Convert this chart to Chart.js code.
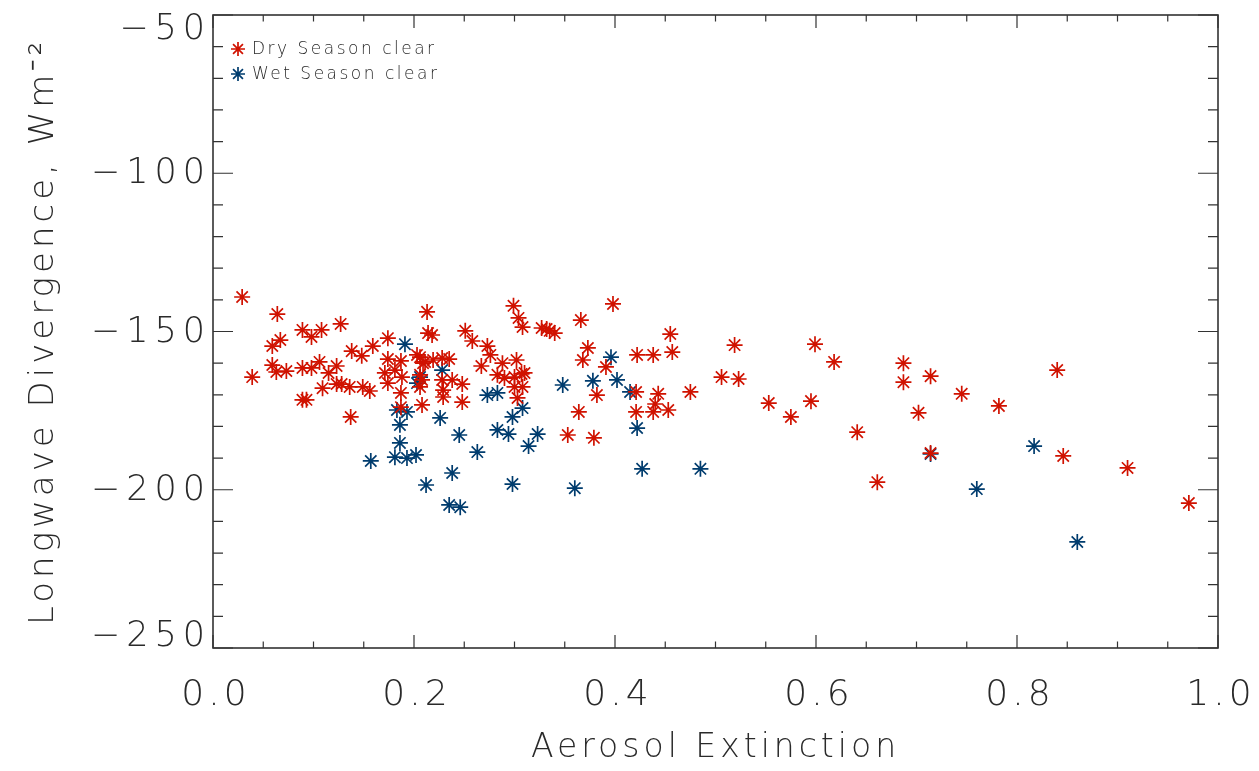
<!DOCTYPE html>
<html>
<head>
<meta charset="utf-8">
<script src="https://cdn.jsdelivr.net/npm/chart.js@4.4.1/dist/chart.umd.min.js"></script>
<style>
  html, body { margin: 0; padding: 0; background: #fff; }
  #wrap { width: 1259px; height: 771px; }
</style>
</head>
<body>
<div id="wrap"><canvas id="chart1" width="1259" height="771"></canvas></div>
<script>
// Dry season clear-sky points (aerosol extinction, longwave divergence)
const dryX = [0.029, 0.064, 0.059, 0.067, 0.059, 0.063, 0.073, 0.039, 0.089, 0.098,
  0.108, 0.089, 0.098, 0.106, 0.089, 0.093, 0.109, 0.127, 0.115, 0.123,
  0.123, 0.128, 0.136, 0.149, 0.156, 0.137, 0.138, 0.148, 0.159, 0.174,
  0.174, 0.187, 0.171, 0.181, 0.188, 0.187, 0.187, 0.174, 0.206, 0.209,
  0.206, 0.208, 0.213, 0.214, 0.203, 0.211, 0.219, 0.228, 0.235, 0.206,
  0.208, 0.228, 0.238, 0.248, 0.229, 0.229, 0.248, 0.218, 0.251, 0.258,
  0.273, 0.276, 0.267, 0.288, 0.302, 0.299, 0.304, 0.308, 0.327, 0.332,
  0.335, 0.340, 0.366, 0.373, 0.368, 0.283, 0.290, 0.300, 0.307, 0.310,
  0.300, 0.308, 0.303, 0.382, 0.364, 0.353, 0.379, 0.398, 0.455, 0.457,
  0.422, 0.438, 0.391, 0.421, 0.443, 0.440, 0.421, 0.438, 0.453, 0.475,
  0.519, 0.506, 0.523, 0.553, 0.575, 0.595, 0.599, 0.618, 0.641, 0.661,
  0.687, 0.687, 0.714, 0.702, 0.745, 0.782, 0.840, 0.714, 0.846, 0.910,
  0.971];
const dryY = [-139.1, -144.5, -154.6, -152.7, -160.6, -162.8, -162.5, -164.4, -149.5, -151.7,
  -149.5, -161.5, -161.5, -159.6, -171.6, -171.6, -167.9, -147.6, -163.1, -160.9,
  -166.6, -166.6, -167.5, -167.5, -168.8, -177.0, -156.2, -157.7, -154.6, -152.1,
  -158.7, -159.3, -163.1, -162.2, -164.4, -169.4, -173.9, -166.3, -158.1, -160.0,
  -167.5, -173.2, -143.8, -150.5, -157.4, -159.6, -159.0, -158.4, -158.7, -163.7,
  -165.3, -165.3, -165.3, -166.6, -168.5, -170.7, -172.3, -151.1, -149.8, -153.0,
  -154.6, -157.4, -160.9, -160.0, -159.0, -141.9, -145.7, -148.6, -148.9, -149.2,
  -149.8, -150.5, -146.4, -155.2, -159.0, -163.7, -164.7, -164.4, -163.4, -163.1,
  -167.5, -167.5, -171.0, -170.1, -175.4, -182.7, -183.6, -141.3, -150.8, -156.5,
  -157.4, -157.4, -161.2, -169.1, -169.7, -172.9, -175.4, -175.4, -174.8, -169.1,
  -154.3, -164.4, -165.0, -172.6, -177.0, -172.0, -154.0, -159.6, -181.8, -197.6,
  -160.0, -166.0, -164.1, -175.7, -169.7, -173.5, -162.2, -188.4, -189.3, -193.1,
  -204.2];

// Wet season clear-sky points
const wetX = [0.191, 0.183, 0.193, 0.186, 0.186, 0.181, 0.193, 0.202, 0.157, 0.212,
  0.203, 0.206, 0.228, 0.273, 0.283, 0.298, 0.308, 0.226, 0.245, 0.283,
  0.294, 0.323, 0.314, 0.263, 0.238, 0.298, 0.360, 0.235, 0.246, 0.348,
  0.378, 0.396, 0.402, 0.415, 0.422, 0.427, 0.485, 0.714, 0.760, 0.817,
  0.860];
const wetY = [-154.0, -174.8, -175.4, -179.5, -185.2, -189.7, -190.0, -189.0, -190.9, -198.5,
  -166.3, -164.4, -162.2, -170.1, -169.4, -177.0, -174.2, -177.3, -182.7, -181.1,
  -182.4, -182.4, -186.2, -188.1, -194.7, -198.2, -199.5, -204.8, -205.5, -166.9,
  -165.6, -158.1, -165.3, -169.1, -180.5, -193.4, -193.4, -188.7, -199.8, -186.2,
  -216.5];

const seriesNames = ["Dry Season clear", "Wet Season clear"];
const xTicks = [0.0, 0.2, 0.4, 0.6, 0.8, 1.0];
const yTicks = [-250, -200, -150, -100, -50];

const toPoints = (xs, ys) => xs.map((v, i) => ({ x: v, y: ys[i] }));

const fontFamily = "'DejaVu Sans', sans-serif";
const fontWeight = 200;
const inkColor = "#2a2a2a";

// wide Hershey-like lettering: canvas letter spacing (reset whenever canvas is resized)
const wideText = {
  id: "wideText",
  beforeUpdate(chart) { chart.ctx.letterSpacing = "4px"; },
  beforeDraw(chart) { chart.ctx.letterSpacing = "4px"; },
};

// box + inward ticks on all four sides, like the IDL plot
const frameTicks = {
  id: "frameTicks",
  afterDatasetsDraw(chart) {
    const { ctx, chartArea: a, scales } = chart;
    const x = scales.x, y = scales.y;
    ctx.save();
    ctx.strokeStyle = "#333";
    ctx.lineWidth = 1.6;
    ctx.strokeRect(a.left, a.top, a.right - a.left, a.bottom - a.top);
    ctx.lineWidth = 1.2;
    ctx.beginPath();
    for (let i = 0; i <= 20; i++) {
      const px = x.getPixelForValue(i * 0.05);
      const len = i % 4 === 0 ? 13 : 6.5;
      ctx.moveTo(px, a.bottom); ctx.lineTo(px, a.bottom - len);
      ctx.moveTo(px, a.top); ctx.lineTo(px, a.top + len);
    }
    for (let v = -250; v <= -50; v += 10) {
      const py = y.getPixelForValue(v);
      const len = v % 50 === 0 ? 20 : 10;
      ctx.moveTo(a.left, py); ctx.lineTo(a.left + len, py);
      ctx.moveTo(a.right, py); ctx.lineTo(a.right - len, py);
    }
    ctx.stroke();

    // y tick labels, kept inside the box height at both ends
    ctx.font = fontWeight + " 35px " + fontFamily;
    ctx.letterSpacing = "6px";
    ctx.fillStyle = inkColor;
    ctx.textAlign = "right";
    ctx.textBaseline = "middle";
    yTicks.forEach((v) => {
      const py = Math.min(Math.max(y.getPixelForValue(v), a.top + 14), a.bottom - 12);
      ctx.fillText((v < 0 ? "\u2212" : "") + Math.abs(v), a.left - 8 + 6, py + 1);
    });
    ctx.restore();
  }
};

// legend in the top-left corner of the plot box
const insideLegend = {
  id: "insideLegend",
  afterDatasetsDraw(chart) {
    const { ctx, chartArea: a } = chart;
    ctx.save();
    ctx.font = fontWeight + " 17px " + fontFamily;
    ctx.letterSpacing = "2.5px";
    ctx.textBaseline = "middle";
    ctx.textAlign = "left";
    chart.data.datasets.forEach((ds, i) => {
      const cy = a.top + 34 + i * 25;
      const cx = a.left + 25;
      ctx.strokeStyle = ds.borderColor;
      ctx.fillStyle = ds.borderColor;
      ctx.lineWidth = ds.borderWidth;
      Chart.helpers.drawPoint(ctx, { pointStyle: ds.pointStyle, radius: 7, borderWidth: ds.borderWidth }, cx, cy);
      ctx.fillStyle = inkColor;
      ctx.fillText(ds.label, cx + 14, cy + 1);
    });
    ctx.restore();
  }
};

const ctx1 = document.getElementById("chart1").getContext("2d");

const scatterChart = new Chart(ctx1, {
  type: "scatter",
  data: {
    datasets: [
      {
        label: seriesNames[0],
        data: toPoints(dryX, dryY),
        pointStyle: "star",
        pointRadius: 8,
        pointHoverRadius: 8,
        borderWidth: 1.7,
        borderColor: "#d01200",
        backgroundColor: "#d01200",
      },
      {
        label: seriesNames[1],
        data: toPoints(wetX, wetY),
        pointStyle: "star",
        pointRadius: 8,
        pointHoverRadius: 8,
        borderWidth: 1.7,
        borderColor: "#003c6e",
        backgroundColor: "#003c6e",
      },
    ],
  },
  plugins: [wideText, frameTicks, insideLegend],
  options: {
    responsive: false,
    animation: false,
    layout: { padding: { left: 20, right: 41, top: 15, bottom: 1 } },
    plugins: {
      tooltip: { enabled: false },
      legend: { display: false },
    },
    scales: {
      x: {
        type: "linear",
        min: 0,
        max: 1,
        afterBuildTicks: (s) => { s.ticks = xTicks.map((v) => ({ value: v })); },
        afterFit: (s) => {
          s.height = 771 - 648 - 1;
          s.paddingLeft = 0; s.paddingRight = 0;
        },
        grid: { display: false, drawTicks: false },
        border: { display: false },
        ticks: {
          padding: 26,
          labelOffset: 3,
          color: inkColor,
          font: { family: fontFamily, size: 36, weight: fontWeight },
          callback: (v) => v.toFixed(1),
        },
        title: {
          display: true,
          text: "Aerosol Extinction",
          color: inkColor,
          font: { family: fontFamily, size: 33, weight: fontWeight },
          padding: { top: 0, bottom: 2 },
        },
      },
      y: {
        type: "linear",
        min: -250,
        max: -50,
        afterBuildTicks: (s) => { s.ticks = yTicks.map((v) => ({ value: v })); },
        afterFit: (s) => {
          s.width = 213 - 20;
          s.paddingTop = 0; s.paddingBottom = 0;
        },
        grid: { display: false, drawTicks: false },
        border: { display: false },
        ticks: { display: false },
        title: {
          display: true,
          text: "Longwave Divergence, Wm\u207B\u00B2",
          color: inkColor,
          font: { family: fontFamily, size: 34, weight: fontWeight },
          padding: { top: 4, bottom: 0 },
        },
      },
    },
  },
});
</script>
</body>
</html>
